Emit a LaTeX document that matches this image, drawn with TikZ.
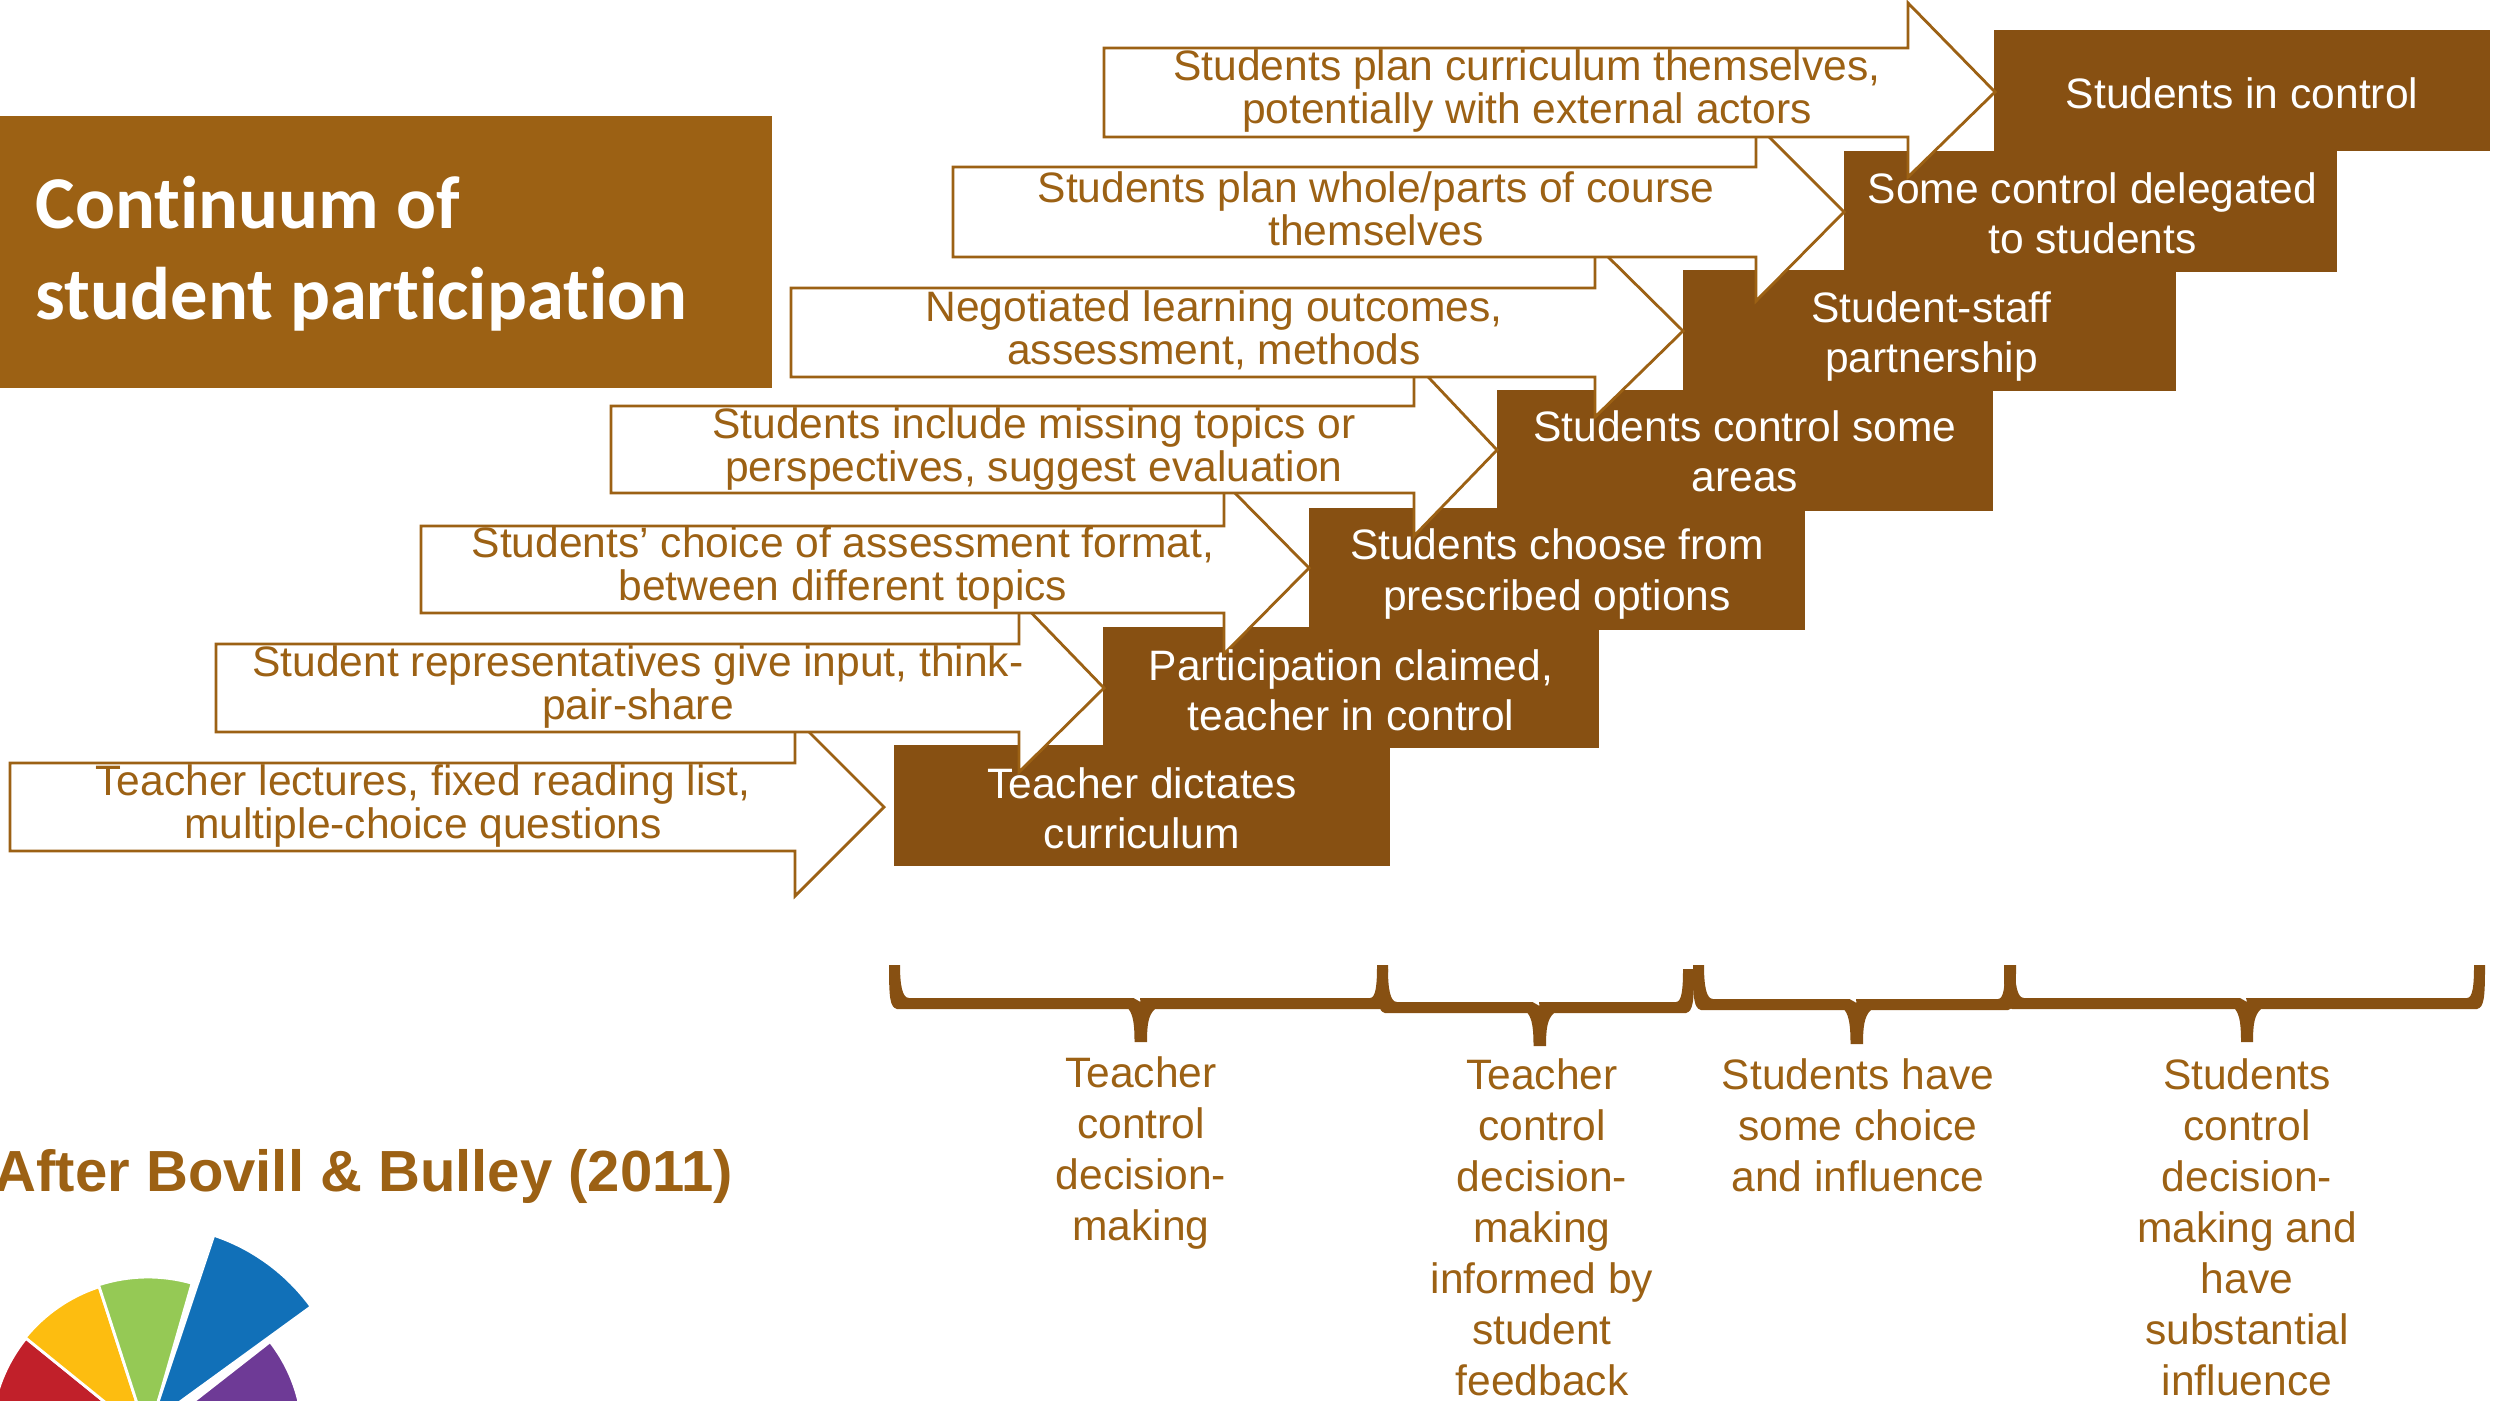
\documentclass[tikz,border=0pt]{standalone}
\usepackage{fontspec}
\setmainfont{Liberation Sans}
\newfontfamily\titlefont[Ligatures=NoCommon]{Carlito}
\definecolor{stepbrown}{HTML}{875012}
\definecolor{textbrown}{HTML}{9C6114}
\definecolor{wheelred}{HTML}{C1202A}
\definecolor{wheelyellow}{HTML}{FDBD10}
\definecolor{wheelgreen}{HTML}{95C955}
\definecolor{wheelblue}{HTML}{1170B8}
\definecolor{wheelpurple}{HTML}{6E3A96}
\newcommand{\arrowpoly}[8]{%
  \draw[arrowline] (#1,#2) -- (#4,#2) -- (#4,#5) -- (#6,#7) -- (#4,#8) -- (#4,#3) -- (#1,#3) -- cycle;}
\newcommand{\bracepoly}[9]{%
  \fill[stepbrown] (#1,#8) -- (#1+11,#8)
   .. controls (#1+11,#4-14) and (#1+13,#4) .. (#1+20,#4)
   -- (#2-7,#4) -- (#2,#4+4) -- (#3-7,#4)
   -- (#6-18,#4) .. controls (#6-12,#4) and (#6-11,#4-14) .. (#6-11,#9)
   -- (#6,#9) .. controls (#6,#5-10) and (#6-1,#5-2) .. (#6-8,#5)
   -- (#3+8,#5) .. controls (#3+1,#5+6) and (#3,#7-16) .. (#3,#7)
   -- (#2-6,#7) .. controls (#2-6,#7-16) and (#2-7,#5+6) .. (#2-12,#5)
   -- (#1+8,#5) .. controls (#1+1,#5-2) and (#1,#5-10) .. (#1,#8) -- cycle;}
\tikzset{
  stepbox/.style={fill=stepbrown,draw=none,inner sep=0pt,minimum width=4.96cm,minimum height=1.21cm},
  steptext/.style={text=white,align=center,inner sep=0pt,font=\fontsize{12.1}{14.3}\selectfont},
  arrowline/.style={draw=textbrown,fill=white,line width=0.8pt,line join=miter},
  arrowtext/.style={text=textbrown,align=center,inner sep=0pt,font=\fontsize{12.1}{12.25}\selectfont},
  bracetext/.style={text=textbrown,align=center,inner sep=0pt,anchor=north,font=\fontsize{12.1}{14.5}\selectfont},
  sector/.style={draw=white,line width=0.8pt},
}
\begin{document}
\begin{tikzpicture}[x=0.01cm,y=-0.01cm]
\useasboundingbox (0,0) rectangle (2494,1400);
\begin{scope}
\clip (0,0) rectangle (2494,1400);
% title
\node[fill=textbrown,inner sep=0pt,minimum width=7.72cm,minimum height=2.72cm] (titlebox) at (386,252) {};
\node[anchor=west,text=white,align=left,inner sep=0pt,font=\titlefont\bfseries\fontsize{21.2}{25.9}\selectfont] (titletext) at (35,254) {Continuum of\\student participation};
% step boxes
\node[stepbox] (b1) at (2242,90.5) {};
\node[stepbox,minimum width=4.93cm] (b2) at (2090.5,211.5) {};
\node[stepbox,minimum width=4.93cm] (b3) at (1929.5,330.5) {};
\node[stepbox] (b4) at (1745,450.5) {};
\node[stepbox] (b5) at (1557,569) {};
\node[stepbox] (b6) at (1351,687.5) {};
\node[stepbox] (b7) at (1142,805.5) {};
% arrows, lowest first
\arrowpoly{10}{763}{851}{795}{718}{884}{807}{896}
\node[arrowtext] (a7) at (423,806) {Teacher lectures, fixed reading list,\\multiple-choice questions};
\arrowpoly{216}{644}{732}{1019}{600}{1104}{688}{772}
\node[arrowtext] (a6) at (638,687) {Student representatives give input, think-\\pair-share};
\arrowpoly{421}{526}{613}{1224}{482}{1309}{568}{654}
\node[arrowtext] (a5) at (843,568) {Students’ choice of assessment format,\\between different topics};
\arrowpoly{611}{406}{493}{1414}{362}{1497}{450}{536}
\node[arrowtext] (a4) at (1034,449) {Students include missing topics or\\perspectives, suggest evaluation};
\arrowpoly{791}{288}{377}{1595}{244}{1683}{331}{417}
\node[arrowtext] (a3) at (1214,330) {Negotiated learning outcomes,\\assessment, methods};
\arrowpoly{953}{167}{257}{1756}{124}{1844}{212}{301}
\node[arrowtext] (a2) at (1376,209) {Students plan whole/parts of course\\themselves};
\arrowpoly{1104}{48}{137}{1908}{3}{1995}{92}{177}
\node[arrowtext] (a1) at (1527,91) {Students plan curriculum themselves,\\potentially with external actors};
% step texts
\node[steptext] (t1) at ([yshift=-0.03cm]b1.center) {Students in control};
\node[steptext] (t2) at ([xshift=0.02cm,yshift=-0.016cm]b2.center) {Some control delegated\\to students};
\node[steptext] (t3) at ([xshift=0.02cm,yshift=-0.06cm]b3.center) {Student-staff\\partnership};
\node[steptext] (t4) at ([yshift=-0.005cm]b4.center) {Students control some\\areas};
\node[steptext] (t5) at ([yshift=-0.05cm]b5.center) {Students choose from\\prescribed options};
\node[steptext] (t6) at ([yshift=-0.03cm]b6.center) {Participation claimed,\\teacher in control};
\node[steptext] (t7) at ([yshift=-0.03cm]b7.center) {Teacher dictates\\curriculum};
% braces
\bracepoly{1377}{1539.5}{1546}{1002}{1013}{1694}{1046}{969}{969}
\bracepoly{889}{1140.5}{1147}{998}{1009}{1388}{1042}{965}{965}
\bracepoly{1693}{1856.5}{1863}{999}{1010}{2016}{1044}{965}{965}
\bracepoly{2004}{2247}{2253}{998}{1009}{2485}{1042}{965}{965}
\node[bracetext] (c1) at (1141,1056) {Teacher\\control\\decision-\\making};
\node[bracetext] (c2) at (1542,1058) {Teacher\\control\\decision-\\making\\informed by\\student\\feedback};
\node[bracetext] (c3) at (1858,1058) {Students have\\some choice\\and influence};
\node[bracetext] (c4) at (2247,1058) {Students\\control\\decision-\\making and\\have\\substantial\\influence};
% citation
\node[anchor=west,text=textbrown,inner sep=0pt,font=\bfseries\fontsize{16.5}{20}\selectfont] (cite) at (-6,1176) {After Bovill \& Bulley (2011)};
% wheel
\begin{scope}[shift={(148,1437)},x=0.01cm,y=0.01cm]
\filldraw[sector,fill=wheelpurple] (0,0) -- (0:155) arc[start angle=0,end angle=38,radius=155] -- cycle;
\filldraw[sector,fill=wheelred] (0,0) -- (180:157) arc[start angle=180,end angle=141,radius=157] -- cycle;
\filldraw[sector,fill=wheelyellow] (0,0) -- (141:158) arc[start angle=141,end angle=108,radius=158] -- cycle;
\filldraw[sector,fill=wheelgreen] (0,0) -- (108:160) arc[start angle=108,end angle=74,radius=160] -- cycle;
\end{scope}
\begin{scope}[shift={(151,1423)},x=0.01cm,y=0.01cm]
\filldraw[sector,fill=wheelblue] (0,0) -- (71.5:198) arc[start angle=71.5,end angle=36,radius=198] -- cycle;
\end{scope}
\end{scope}
\end{tikzpicture}
\end{document}
